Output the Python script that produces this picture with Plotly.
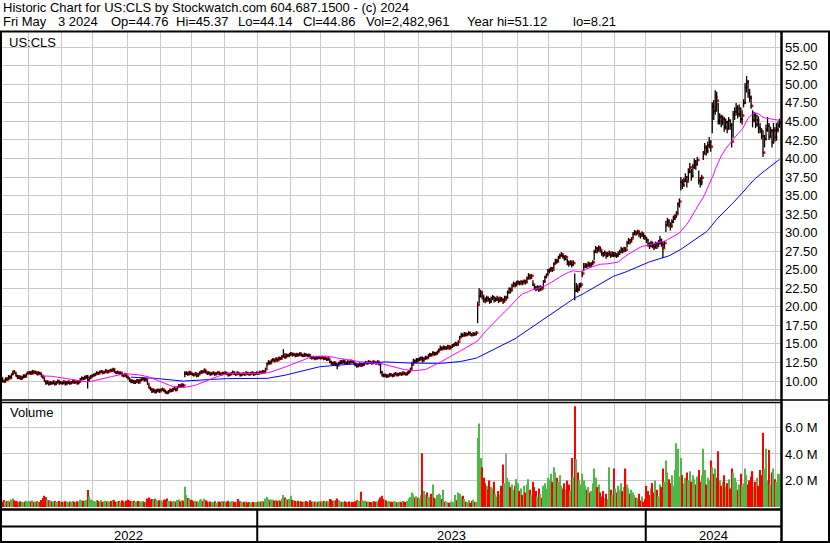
import pandas as pd
import plotly.graph_objects as go

# daily bars, US:CLS, 3 May 2022 .. 3 May 2024 (one line per month)
close = [
    10.3, 10.1, 10.4, 10.0, 9.9, 10.3, 10.2, 10.6, 10.4, 10.9, 11.3, 11.1, 10.7, 10.4, 10.6, 10.3, 10.5, 10.7, 10.6, 11.0, 11.1,
    11.2, 11.0, 11.3, 11.1, 11.2, 10.9, 11.1, 11.0, 10.7, 10.5, 10.0, 9.7, 9.9, 9.6, 9.8, 9.7, 9.9, 9.6, 9.8, 10.0, 9.7, 9.8,
    9.7, 9.9, 9.6, 9.8, 9.9, 9.7, 9.8, 10.0, 9.8, 9.9, 9.7, 9.9, 10.2, 10.4, 10.3, 10.5, 10.6, 10.1, 10.4, 10.6, 10.7,
    10.8, 10.9, 11.1, 11.0, 11.2, 11.3, 11.1, 11.2, 11.4, 11.2, 11.3, 11.5, 11.4, 11.6, 11.2, 11.1, 11.2, 11.0, 11.1, 10.8, 10.7, 10.9, 10.6,
    10.4, 10.1, 9.9, 10.0, 9.8, 9.9, 10.1, 9.8, 10.1, 10.2, 10.3, 10.1, 10.2, 9.6, 9.1, 8.9, 8.6, 8.8, 8.5, 8.7, 8.8, 8.6,
    8.8, 8.9, 8.7, 8.5, 8.4, 8.6, 8.8, 8.7, 8.9, 9.0, 8.8, 9.2, 9.4, 9.3, 9.5, 9.4, 11.0, 11.1, 10.9, 11.2, 11.0,
    10.9, 10.8, 11.0, 10.7, 10.9, 11.1, 11.3, 11.2, 11.5, 11.2, 11.0, 11.1, 10.9, 11.0, 11.1, 10.9, 11.0, 11.2, 11.0, 10.9, 11.1, 11.0,
    11.1, 11.0, 10.8, 10.9, 11.0, 11.2, 11.0, 10.9, 11.1, 11.0, 10.8, 10.9, 11.0, 10.9, 11.1, 11.0, 10.9, 11.0, 11.1, 10.9, 11.0, 11.1,
    11.0, 11.2, 11.1, 11.3, 11.2, 11.6, 12.3, 12.6, 12.4, 12.8, 12.9, 12.7, 13.0, 12.8, 13.1, 13.0, 13.3, 13.6, 13.2, 13.5, 13.4, 13.6,
    13.7, 13.5, 13.6, 13.4, 13.6, 13.5, 13.7, 13.5, 13.4, 13.6, 13.5, 13.4, 13.5, 13.2, 13.1, 13.2, 13.0, 13.2, 13.1, 13.2,
    13.1, 13.2, 13.0, 13.1, 12.9, 13.0, 12.6, 12.4, 12.3, 12.5, 12.2, 12.1, 12.4, 12.6, 12.5, 12.7, 12.5, 12.4, 12.6, 12.5, 12.7, 12.6, 12.4,
    12.2, 12.0, 12.1, 12.3, 12.1, 12.2, 12.4, 12.5, 12.4, 12.6, 12.5, 12.4, 12.6, 12.5, 12.4, 12.6, 12.3, 11.2, 10.8, 10.7,
    10.8, 10.6, 10.7, 10.9, 10.8, 10.7, 10.9, 11.0, 10.8, 10.9, 11.0, 10.9, 11.1, 11.0, 10.9, 11.1, 11.3, 11.6, 12.2, 12.7, 12.6, 12.9, 12.8,
    12.9, 13.1, 12.7, 13.0, 13.2, 13.1, 13.4, 13.6, 13.5, 13.8, 13.6, 13.7, 13.9, 14.2, 14.5, 14.3, 14.6, 14.4, 14.4, 14.7, 14.4, 14.6,
    14.8, 14.9, 15.1, 14.9, 15.3, 15.9, 16.2, 16.1, 16.4, 16.2, 16.3, 16.5, 16.3, 16.2, 16.4, 16.3, 16.5, 20.3, 21.4, 22.0, 21.5,
    21.0, 20.8, 21.2, 21.0, 20.7, 21.1, 21.3, 20.9, 21.0, 21.2, 20.8, 21.1, 21.0, 20.7, 21.2, 21.2, 21.9, 22.4, 22.2, 22.8, 23.1, 22.9, 23.2,
    23.3, 23.1, 23.4, 23.2, 23.5, 23.3, 23.8, 24.3, 23.9, 24.2, 23.0, 22.6, 22.4, 22.7, 22.3, 22.6, 22.5, 23.4, 24.0, 24.3, 24.8,
    24.9, 25.2, 25.0, 25.8, 26.3, 26.1, 26.6, 26.9, 27.1, 26.8, 26.5, 26.7, 26.0, 25.8, 26.1, 25.7, 25.9, 22.2, 22.6, 22.3, 22.8, 23.0,
    24.5, 25.4, 25.7, 25.5, 25.9, 25.6, 25.8, 26.0, 27.4, 27.9, 27.6, 28.0, 27.7, 27.2, 27.0, 27.3, 26.9, 27.1, 27.3, 26.9, 27.2, 27.0,
    27.1, 26.9, 27.2, 27.4, 27.8, 27.5, 27.9, 27.7, 28.6, 29.0, 28.8, 29.2, 29.8, 30.1, 29.9, 30.2, 29.8, 29.6, 29.9, 29.5, 29.3,
    29.0, 28.4, 28.2, 28.6, 28.3, 28.0, 28.5, 28.2, 28.6, 29.0, 28.4, 27.9, 28.6, 31.0, 31.6, 31.2, 30.8, 31.5, 31.9, 32.2, 32.5, 33.8, 34.2,
    36.8, 36.4, 37.0, 37.5, 36.9, 38.2, 38.8, 37.6, 38.9, 39.6, 39.2, 39.8, 37.0, 36.8, 37.4, 40.6, 41.5, 41.0, 41.8, 42.3, 41.6,
    47.0, 46.4, 48.3, 47.8, 45.0, 45.6, 44.8, 45.3, 44.2, 44.9, 44.0, 45.1, 44.5, 42.3, 45.9, 46.3, 46.8, 46.0, 46.7, 45.3, 45.8,
    47.5, 49.6, 50.3, 48.8, 48.2, 47.1, 45.2, 45.8, 44.6, 45.2, 44.1, 43.8, 43.0, 40.8, 42.6, 43.9, 44.4, 42.9, 43.8, 42.2, 43.8, 42.9,
    43.9, 44.5, 44.86,
]
high = [
    10.6, 10.5, 10.6, 10.4, 10.2, 10.5, 10.5, 10.8, 10.7, 11.0, 11.4, 11.4, 11.1, 10.8, 10.8, 10.6, 10.7, 10.9, 10.9, 11.1, 11.3,
    11.3, 11.3, 11.5, 11.4, 11.4, 11.2, 11.3, 11.2, 11.0, 10.8, 10.4, 10.0, 10.1, 9.9, 10.0, 9.9, 10.1, 9.9, 10.0, 10.2, 10.0, 10.0,
    9.9, 10.1, 9.9, 10.0, 10.1, 9.9, 10.0, 10.2, 10.0, 10.1, 9.9, 10.1, 10.4, 10.6, 10.5, 10.7, 10.8, 10.8, 10.6, 10.8, 10.9,
    11.0, 11.1, 11.3, 11.2, 11.4, 11.5, 11.3, 11.4, 11.6, 11.4, 11.5, 11.6, 11.6, 11.8, 11.6, 11.3, 11.4, 11.2, 11.3, 11.1, 10.9, 11.1, 10.9,
    10.6, 10.4, 10.2, 10.2, 10.1, 10.1, 10.3, 10.1, 10.3, 10.4, 10.5, 10.4, 10.4, 10.1, 9.5, 9.2, 9.0, 9.0, 8.8, 8.9, 9.0, 8.9,
    9.0, 9.1, 8.9, 8.8, 8.6, 8.8, 9.0, 8.9, 9.1, 9.2, 9.0, 9.3, 9.6, 9.5, 9.7, 9.6, 11.3, 11.3, 11.2, 11.4, 11.2,
    11.1, 11.0, 11.2, 11.0, 11.1, 11.3, 11.5, 11.4, 11.7, 11.5, 11.2, 11.3, 11.1, 11.2, 11.3, 11.1, 11.2, 11.3, 11.2, 11.1, 11.2, 11.2,
    11.3, 11.2, 11.0, 11.1, 11.2, 11.4, 11.2, 11.1, 11.3, 11.2, 11.0, 11.1, 11.2, 11.1, 11.3, 11.2, 11.1, 11.2, 11.3, 11.1, 11.2, 11.3,
    11.2, 11.4, 11.3, 11.5, 11.4, 11.8, 12.5, 12.8, 12.7, 12.9, 13.1, 12.9, 13.2, 13.0, 13.3, 13.2, 13.5, 14.3, 13.6, 13.7, 13.6, 13.8,
    13.9, 13.7, 13.8, 13.6, 13.8, 13.7, 13.9, 13.7, 13.6, 13.8, 13.7, 13.6, 13.7, 13.4, 13.3, 13.4, 13.2, 13.4, 13.3, 13.4,
    13.3, 13.4, 13.2, 13.3, 13.1, 13.2, 12.9, 12.7, 12.6, 12.7, 12.5, 12.4, 12.6, 12.8, 12.8, 12.9, 12.8, 12.6, 12.8, 12.7, 12.9, 12.8, 12.7,
    12.4, 12.3, 12.3, 12.5, 12.4, 12.4, 12.6, 12.7, 12.6, 12.8, 12.7, 12.6, 12.8, 12.7, 12.6, 12.8, 12.6, 12.4, 11.3, 11.0,
    11.0, 10.9, 10.9, 11.1, 11.0, 10.9, 11.1, 11.2, 11.0, 11.1, 11.2, 11.1, 11.3, 11.2, 11.1, 11.3, 11.5, 11.8, 12.6, 13.0, 12.9, 13.1, 13.1,
    13.2, 13.3, 13.3, 13.2, 13.4, 13.3, 13.6, 13.8, 13.7, 14.0, 13.9, 13.9, 14.1, 14.4, 14.8, 14.6, 14.8, 14.7, 14.7, 14.9, 14.7, 14.8,
    15.0, 15.1, 15.3, 15.2, 15.5, 16.1, 16.5, 16.4, 16.6, 16.5, 16.5, 16.7, 16.6, 16.4, 16.6, 16.5, 16.7, 20.7, 22.5, 22.3, 22.0,
    21.5, 21.3, 21.5, 21.4, 21.2, 21.4, 21.6, 21.4, 21.3, 21.5, 21.2, 21.4, 21.3, 21.1, 21.5, 21.5, 22.2, 22.6, 22.6, 23.1, 23.4, 23.3, 23.5,
    23.6, 23.5, 23.6, 23.5, 23.7, 23.6, 24.1, 24.55, 24.3, 24.4, 23.6, 23.0, 22.8, 22.9, 22.8, 22.9, 22.8, 23.6, 24.2, 24.5, 25.1,
    25.2, 25.4, 25.3, 26.0, 26.5, 26.4, 26.9, 27.2, 27.4, 27.2, 26.9, 27.0, 26.5, 26.2, 26.3, 26.1, 26.3, 24.5, 23.2, 23.0, 23.2, 23.3,
    24.8, 25.9, 25.9, 25.8, 26.1, 25.9, 26.0, 26.3, 27.7, 28.2, 28.0, 28.3, 28.1, 27.6, 27.4, 27.6, 27.3, 27.4, 27.6, 27.2, 27.5, 27.4,
    27.4, 27.2, 27.5, 27.7, 28.1, 27.9, 28.1, 28.0, 28.9, 29.3, 29.1, 29.4, 30.1, 30.35, 30.2, 30.4, 30.2, 30.0, 30.2, 29.9, 29.7,
    29.4, 29.1, 28.7, 28.9, 28.8, 28.5, 28.8, 28.7, 29.0, 29.6, 29.2, 28.8, 28.9, 31.6, 32.0, 31.8, 31.4, 31.8, 32.3, 32.5, 32.9, 34.1, 34.6,
    37.5, 37.2, 37.4, 38.0, 37.6, 38.7, 39.4, 38.6, 39.3, 40.0, 39.8, 40.2, 38.4, 37.5, 37.8, 41.0, 42.1, 41.8, 42.3, 42.9, 42.4,
    47.6, 47.9, 49.2, 49.0, 47.5, 46.1, 45.9, 45.8, 45.6, 45.4, 45.1, 45.6, 45.3, 44.8, 46.4, 46.9, 47.5, 47.2, 47.3, 46.9, 46.5,
    48.0, 50.2, 51.12, 50.6, 49.4, 48.5, 46.5, 46.3, 46.1, 45.9, 45.7, 44.8, 44.1, 43.8, 43.2, 44.6, 45.6, 44.8, 44.3, 43.9, 44.8, 44.2,
    44.8, 45.0, 45.37,
]
low = [
    10.1, 9.9, 10.0, 9.8, 9.8, 9.9, 10.0, 10.2, 10.2, 10.4, 10.8, 11.0, 10.6, 10.3, 10.3, 10.2, 10.2, 10.4, 10.4, 10.6, 10.9,
    10.9, 10.8, 11.0, 10.9, 11.0, 10.8, 10.9, 10.8, 10.5, 10.3, 9.9, 9.5, 9.6, 9.4, 9.5, 9.5, 9.6, 9.4, 9.5, 9.7, 9.5, 9.6,
    9.5, 9.6, 9.4, 9.5, 9.6, 9.5, 9.6, 9.7, 9.6, 9.7, 9.5, 9.6, 9.9, 10.2, 10.1, 10.2, 10.3, 9.0, 10.0, 10.3, 10.5,
    10.6, 10.7, 10.9, 10.8, 11.0, 11.1, 10.9, 11.0, 11.2, 11.0, 11.1, 11.3, 11.2, 11.3, 11.1, 10.9, 11.0, 10.9, 10.9, 10.6, 10.5, 10.6, 10.4,
    10.2, 9.9, 9.7, 9.7, 9.6, 9.6, 9.8, 9.6, 9.8, 10.0, 10.1, 9.9, 10.0, 9.5, 9.0, 8.7, 8.4, 8.5, 8.3, 8.4, 8.5, 8.4,
    8.6, 8.7, 8.5, 8.3, 8.21, 8.3, 8.5, 8.5, 8.6, 8.8, 8.6, 8.9, 9.1, 9.1, 9.2, 9.2, 10.5, 10.8, 10.7, 10.9, 10.8,
    10.7, 10.6, 10.8, 10.5, 10.6, 10.9, 11.0, 11.0, 11.2, 11.0, 10.8, 10.9, 10.7, 10.8, 10.9, 10.7, 10.8, 11.0, 10.8, 10.7, 10.9, 10.8,
    10.9, 10.8, 10.6, 10.7, 10.8, 11.0, 10.8, 10.7, 10.9, 10.8, 10.6, 10.7, 10.8, 10.7, 10.9, 10.8, 10.7, 10.8, 10.9, 10.7, 10.8, 10.9,
    10.8, 11.0, 10.9, 11.1, 11.0, 11.2, 11.8, 12.3, 12.2, 12.4, 12.6, 12.5, 12.7, 12.6, 12.8, 12.8, 13.0, 13.2, 13.0, 13.2, 13.2, 13.3,
    13.4, 13.3, 13.4, 13.2, 13.3, 13.3, 13.4, 13.3, 13.2, 13.3, 13.3, 13.2, 13.3, 13.0, 12.9, 13.0, 12.8, 13.0, 12.9, 13.0,
    12.9, 13.0, 12.8, 12.9, 12.7, 12.8, 12.4, 12.2, 12.1, 12.2, 12.0, 11.6, 12.1, 12.3, 12.3, 12.4, 12.3, 12.2, 12.3, 12.3, 12.4, 12.4, 12.2,
    12.0, 11.8, 11.9, 12.0, 11.9, 12.0, 12.1, 12.3, 12.2, 12.4, 12.3, 12.2, 12.4, 12.3, 12.2, 12.3, 12.1, 11.0, 10.6, 10.5,
    10.5, 10.4, 10.5, 10.6, 10.6, 10.5, 10.6, 10.8, 10.6, 10.7, 10.8, 10.7, 10.8, 10.8, 10.7, 10.8, 11.0, 11.2, 11.7, 12.3, 12.4, 12.5, 12.5,
    12.7, 12.8, 12.5, 12.7, 12.9, 12.9, 13.1, 13.3, 13.3, 13.5, 13.4, 13.5, 13.6, 13.9, 14.2, 14.1, 14.3, 14.2, 14.2, 14.4, 14.2, 14.4,
    14.5, 14.6, 14.8, 14.7, 14.9, 15.5, 15.9, 15.9, 16.1, 16.0, 16.1, 16.2, 16.1, 16.0, 16.1, 16.1, 16.2, 17.8, 20.5, 21.3, 21.0,
    20.6, 20.5, 20.7, 20.7, 20.4, 20.6, 20.9, 20.6, 20.7, 20.8, 20.5, 20.7, 20.7, 20.4, 20.7, 20.8, 21.2, 21.9, 21.8, 22.2, 22.7, 22.6, 22.8,
    23.0, 22.9, 23.1, 22.9, 23.2, 23.0, 23.3, 23.8, 23.7, 23.8, 22.8, 22.3, 22.1, 22.3, 22.0, 22.2, 22.2, 22.6, 23.3, 23.9, 24.3,
    24.5, 24.8, 24.7, 25.1, 25.8, 25.8, 26.1, 26.5, 26.8, 26.5, 26.2, 26.3, 25.6, 25.4, 25.6, 25.3, 25.5, 20.9, 22.0, 21.9, 22.2, 22.6,
    24.0, 24.8, 25.3, 25.2, 25.5, 25.3, 25.4, 25.6, 26.3, 27.3, 27.2, 27.5, 27.3, 26.9, 26.7, 26.9, 26.5, 26.7, 26.9, 26.6, 26.8, 26.7,
    26.7, 26.6, 26.8, 27.0, 27.3, 27.2, 27.5, 27.4, 28.0, 28.5, 28.4, 28.8, 29.3, 29.7, 29.6, 29.8, 29.4, 29.2, 29.5, 29.1, 29.0,
    28.6, 28.1, 27.8, 28.1, 27.9, 27.65, 27.9, 27.8, 28.1, 28.4, 28.1, 26.6, 28.0, 30.1, 30.9, 30.7, 30.3, 30.8, 31.3, 31.7, 32.0, 32.6, 33.4,
    35.7, 35.9, 36.2, 36.8, 36.1, 37.0, 38.0, 37.0, 37.5, 38.6, 38.5, 39.1, 36.5, 36.1, 36.4, 39.8, 40.6, 40.4, 40.7, 41.4, 40.9,
    43.4, 45.2, 45.9, 46.3, 44.6, 44.6, 44.2, 44.5, 43.6, 43.9, 43.4, 43.9, 43.9, 41.5, 42.8, 45.2, 45.8, 45.4, 45.6, 44.8, 44.6,
    46.9, 47.4, 48.9, 48.2, 47.6, 46.7, 44.2, 44.9, 44.1, 44.3, 43.4, 43.4, 42.6, 40.2, 41.5, 42.5, 43.6, 42.5, 42.8, 41.5, 42.0, 42.3,
    42.4, 43.5, 44.14,
]
# thousands of shares
volume = [
    540, 500, 470, 420, 530, 400, 450, 480, 410, 570, 640, 500, 460, 420, 380, 430, 400, 360, 420, 470, 410,
    450, 420, 500, 380, 410, 430, 390, 370, 520, 680, 850, 740, 550, 500, 470, 420, 400, 450, 380, 420, 460, 390,
    400, 370, 440, 410, 360, 420, 380, 450, 400, 370, 430, 410, 540, 500, 450, 480, 520, 1280, 800, 570, 500,
    450, 410, 530, 470, 420, 500, 390, 440, 480, 410, 430, 400, 460, 540, 510, 380, 420, 450, 370, 500, 430, 400, 480,
    540, 500, 450, 410, 470, 390, 420, 460, 430, 400, 450, 380, 420, 640, 720, 570, 600, 500, 620, 540, 470, 510,
    500, 420, 540, 570, 640, 460, 480, 410, 430, 450, 400, 530, 570, 440, 500, 480, 1530, 900, 680, 600, 540,
    500, 440, 470, 420, 400, 540, 580, 450, 630, 500, 420, 390, 410, 360, 380, 430, 320, 400, 420, 370, 450, 410,
    430, 400, 470, 380, 420, 450, 390, 370, 410, 600, 440, 380, 360, 400, 420, 340, 370, 300, 350, 380, 330, 390,
    380, 430, 400, 450, 420, 640, 760, 600, 510, 570, 540, 480, 520, 450, 500, 470, 640, 900, 720, 600, 540, 620,
    850, 540, 500, 450, 420, 480, 400, 430, 380, 410, 450, 370, 390, 500, 420, 380, 410, 360, 400, 430,
    420, 400, 450, 380, 430, 410, 600, 540, 480, 450, 520, 640, 500, 420, 400, 380, 430, 360, 390, 420, 370, 400, 380,
    430, 500, 410, 470, 1150, 540, 450, 480, 400, 420, 380, 360, 410, 430, 390, 420, 540, 720, 850, 600,
    540, 500, 420, 450, 400, 380, 430, 410, 360, 390, 420, 370, 450, 400, 380, 460, 640, 760, 1100, 950, 720, 820, 700,
    650, 900, 4050, 1200, 900, 1100, 800, 750, 1000, 1700, 700, 650, 900, 1000, 900, 600, 1300, 400, 450, 350, 300, 420,
    400, 350, 900, 500, 1100, 1000, 800, 850, 600, 400, 350, 500, 300, 450, 550, 400, 380, 5200, 6300, 3700, 3000,
    2200, 1800, 1600, 1300, 2000, 1500, 1400, 1900, 1000, 800, 1200, 900, 1600, 3200, 1800, 4050, 2200, 1900, 1500, 1700, 1300, 1600, 2100,
    1800, 1200, 1400, 900, 1600, 1100, 1700, 2100, 1300, 900, 1900, 1500, 1200, 800, 1400, 1000, 700, 1600, 1800, 1400, 2200,
    2100, 2500, 1900, 3000, 2600, 2200, 1900, 2400, 1600, 1400, 1800, 1300, 2000, 1700, 1200, 3700, 2300, 7600, 3600, 2600, 2000, 1700,
    2500, 2000, 1600, 1300, 1500, 1100, 1200, 1800, 2900, 2200, 1500, 1700, 1100, 800, 1200, 700, 1000, 600, 3000, 1300, 900, 2900,
    1400, 1100, 1600, 1300, 1800, 1200, 1500, 2900, 1700, 1400, 1000, 1300, 1100, 900, 700, 600, 1000, 500, 800, 400, 600,
    1600, 1200, 900, 1400, 1800, 1100, 2000, 1300, 800, 1700, 1500, 2900, 1900, 3500, 2600, 2100, 1800, 2400, 1600, 2800, 4800, 4400, 2300,
    3700, 2400, 1800, 2200, 2600, 2000, 2700, 1900, 2400, 2100, 1700, 2300, 2800, 1900, 2400, 4400, 2800, 1700, 2200, 2000, 3500,
    3000, 2500, 2900, 2200, 4200, 2000, 1600, 1900, 2400, 1500, 1800, 2100, 1400, 2900, 2600, 2200, 1900, 1300, 1700, 2500, 1600,
    1800, 2900, 2400, 1700, 2000, 2300, 2700, 1500, 1900, 2200, 1600, 2800, 2400, 5600, 2900, 4400, 2000, 4300, 1700, 2600, 2900, 2100,
    1900, 2500, 2483,
]

price_ticks = [10.0, 12.5, 15.0, 17.5, 20.0, 22.5, 25.0, 27.5, 30.0, 32.5, 35.0, 37.5, 40.0, 42.5, 45.0, 47.5, 50.0, 52.5, 55.0]
volume_ticks = [2.0, 4.0, 6.0]  # millions

title_1 = "Historic Chart for US:CLS by Stockwatch.com 604.687.1500 - (c) 2024"
# second header line: (text, left edge px) - the fields are spread out like in the original
title_2 = [("Fri May", 2), ("3 2024", 57), ("Op=44.76", 110), ("Hi=45.37", 175), ("Lo=44.14", 237),
           ("Cl=44.86", 302), ("Vol=2,482,961", 365), ("Year hi=51.12", 466), ("lo=8.21", 572)]

n = len(close)
assert len(high) == n and len(low) == n and len(volume) == n, (n, len(high), len(low), len(volume))

dates = pd.bdate_range("2022-05-03", periods=n)
df = pd.DataFrame({"close": close, "high": high, "low": low, "vol": volume}, index=dates)
ma_fast = df["close"].rolling(30).mean()
ma_slow = df["close"].rolling(90).mean()
idx = list(range(n))

# up / down / unchanged colouring of the volume bars
chg = df["close"].diff().round(4)
bar_colors = []
for c in chg:
    if pd.isna(c) or c > 0:
        bar_colors.append("#50b848")
    elif c < 0:
        bar_colors.append("#ff0000")
    else:
        bar_colors.append("#a0a0a0")

month_start = [i for i in range(1, n) if dates[i].month != dates[i - 1].month]
year_start = [i for i in range(1, n) if dates[i].year != dates[i - 1].year]
grid_x = [i - 0.5 for i in month_start]

W, H = 830, 543
FONT = "Liberation Sans, Arial, sans-serif"


def px(x):
    return x / W


def py(y):
    return 1 - y / H


x_range = [1.34, 524.03]

hl_x, hl_y = [], []
for i in range(n):
    hl_x += [i, i, None]
    hl_y += [low[i], high[i], None]

fig = go.Figure()
# red close ticks sit under the black high-low bars, so they only peek out beside them
fig.add_trace(go.Scatter(x=[i + 0.7 for i in idx], y=close, mode="markers",
                         marker=dict(symbol="square", size=2.5, color="#ff0000", line=dict(width=0)),
                         xaxis="x", yaxis="y"))
fig.add_trace(go.Scatter(x=hl_x, y=hl_y, mode="lines", line=dict(color="black", width=1.3),
                         xaxis="x", yaxis="y"))
fig.add_trace(go.Scatter(x=idx, y=ma_slow, mode="lines", line=dict(color="#0000ff", width=1),
                         xaxis="x", yaxis="y"))
fig.add_trace(go.Scatter(x=idx, y=ma_fast, mode="lines", line=dict(color="#ff00ff", width=1),
                         xaxis="x", yaxis="y"))
fig.add_trace(go.Bar(x=idx, y=[v * 1000 for v in volume], marker=dict(color=bar_colors, line=dict(width=0)),
                     width=0.8, xaxis="x2", yaxis="y2"))

axis_common = dict(showgrid=True, gridcolor="#c8c8c8", gridwidth=1, zeroline=False, showline=False,
                   ticks="", automargin=False)

shapes = []


def line(x0, y0, x1, y1, w, xref="paper"):
    shapes.append(dict(type="line", xref=xref, yref="paper", x0=x0, y0=py(y0), x1=x1, y1=py(y1),
                       line=dict(color="black", width=w)))


line(px(0), 31.5, px(W), 31.5, 2)
line(px(1), 31, px(1), H, 2)
line(px(781.5), 31, px(781.5), H, 2.5)
line(px(829), 31, px(829), H, 2)
line(px(0), 400, px(W), 400, 1.5)
line(px(0), 402.5, px(781.5), 402.5, 1.5)
line(px(0), 509.5, px(781.5), 509.5, 2.5)
line(px(0), 526.5, px(781.5), 526.5, 2)
line(px(0), 542, px(W), 542, 2)
for i in year_start:
    line(i - 0.5, 509, i - 0.5, H, 2, xref="x")

annotations = [
    dict(text=title_1.replace(" ", "\u00a0"), x=px(1), y=py(8)),
    dict(text="US:CLS", x=px(7), y=py(42)),
    dict(text="Volume", x=px(8), y=py(413)),
]
for text, left in title_2:
    annotations.append(dict(text=text.replace(" ", "\u00a0"), x=px(left - 1), y=py(21.5)))
for a in annotations:
    a.update(xref="paper", yref="paper", xanchor="left", yanchor="middle", showarrow=False,
             font=dict(family=FONT, size=13, color="black"))

edges = [x_range[0]] + [i - 0.5 for i in year_start] + [x_range[1]]
for k, label in enumerate(["2022", "2023", "2024"]):
    annotations.append(dict(text=label, x=(edges[k] + edges[k + 1]) / 2, y=py(535), xref="x", yref="paper",
                            xanchor="center", yanchor="middle", showarrow=False,
                            font=dict(family=FONT, size=13, color="black")))

fig.update_layout(
    width=W, height=H,
    margin=dict(l=0, r=0, t=0, b=0),
    paper_bgcolor="white", plot_bgcolor="white",
    showlegend=False, hovermode=False,
    font=dict(family=FONT, size=13, color="black"),
    xaxis=dict(domain=[0, px(781)], range=x_range, tickvals=grid_x, showticklabels=False,
               anchor="y", **axis_common),
    xaxis2=dict(domain=[0, px(781)], range=x_range, tickvals=grid_x, showticklabels=False,
                anchor="y2", matches="x", **axis_common),
    yaxis=dict(domain=[py(400), py(32)], range=[7.44, 57.06], side="right", anchor="x",
               tickvals=price_ticks, ticktext=[f"{v:.2f}" for v in price_ticks],
               ticklabelstandoff=3, tickfont=dict(family=FONT, size=13, color="black"), **axis_common),
    yaxis2=dict(domain=[py(507), py(402)], range=[0, 7.92e6], side="right", anchor="x2",
                tickvals=[v * 1e6 for v in volume_ticks], ticktext=[f"{v:.1f} M" for v in volume_ticks],
                ticklabelstandoff=3, tickfont=dict(family=FONT, size=13, color="black"), **axis_common),
    shapes=shapes,
    annotations=annotations,
)

# the page's default 8px body margin would push the chart off the window
fig.write_html("out.html", config={"displayModeBar": False},
               post_script="document.body.style.margin='0px';")
